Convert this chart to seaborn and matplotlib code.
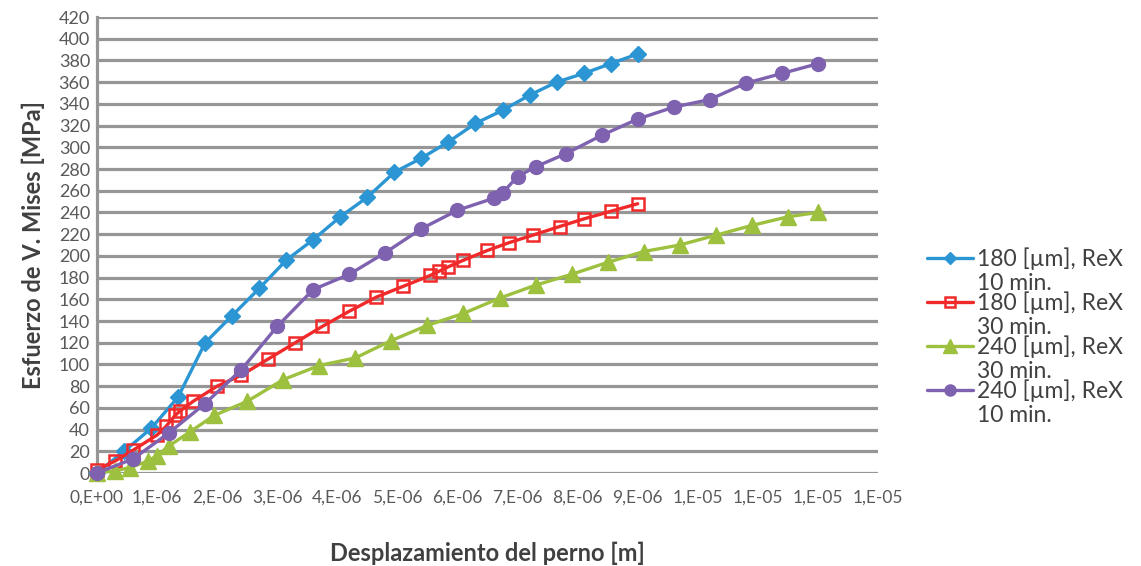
import matplotlib
matplotlib.use("Agg")
import matplotlib.pyplot as plt
from matplotlib.legend_handler import HandlerLine2D
import numpy as np
import seaborn as sns
import pandas as pd

# Pin displacement in micrometres (converted to metres when plotted) and von Mises stress in MPa
disp_180_10 = [0, 0.45, 0.9, 1.35, 1.8, 2.25, 2.7, 3.15, 3.6, 4.05, 4.5, 4.95, 5.4,
               5.85, 6.3, 6.75, 7.2, 7.65, 8.1, 8.55, 9.0]
stress_180_10 = [0, 20, 41, 70, 120, 145, 170, 196, 215, 236, 254, 277, 290,
                 305, 322, 334, 348, 360, 368, 377, 386]

disp_180_30 = [0, 0.3, 0.6, 1.0, 1.15, 1.3, 1.38, 1.6, 2.0, 2.4, 2.85, 3.3, 3.75,
               4.2, 4.65, 5.1, 5.55, 5.7, 5.85, 6.1, 6.5, 6.85, 7.25, 7.7, 8.1, 8.55, 9.0]
stress_180_30 = [3, 11, 21, 35, 43, 53, 57, 66, 80, 90, 105, 120, 135,
                 149, 162, 172, 182, 186, 190, 196, 205, 212, 219, 227, 234, 241, 248]

disp_240_30 = [0, 0.3, 0.55, 0.85, 1.0, 1.2, 1.55, 1.95, 2.5, 3.1, 3.7, 4.3, 4.9,
               5.5, 6.1, 6.7, 7.3, 7.9, 8.5, 9.1, 9.7, 10.3, 10.9, 11.5, 12.0]
stress_240_30 = [0, 2, 5, 11, 16, 25, 38, 53, 66, 86, 99, 106, 122,
                 136, 147, 161, 173, 183, 194, 204, 210, 219, 228, 236, 240]

disp_240_10 = [0, 0.6, 1.2, 1.8, 2.4, 3.0, 3.6, 4.2, 4.8, 5.4, 6.0, 6.6, 6.75,
               7.0, 7.3, 7.8, 8.4, 9.0, 9.6, 10.2, 10.8, 11.4, 12.0]
stress_240_10 = [0, 13, 37, 64, 95, 135, 169, 183, 203, 225, 242, 253, 258,
                 273, 282, 294, 311, 326, 337, 344, 359, 368, 377]

series_labels = ["180 [µm], ReX\n10 min.", "180 [µm], ReX\n30 min.",
                 "240 [µm], ReX\n30 min.", "240 [µm], ReX\n10 min."]

y_ticks = list(range(0, 421, 20))
x_ticks = [0, 1e-6, 2e-6, 3e-6, 4e-6, 5e-6, 6e-6, 7e-6, 8e-6, 9e-6,
           1.0e-5, 1.1e-5, 1.2e-5, 1.3e-5]
x_tick_labels = ["0,E+00", "1,E-06", "2,E-06", "3,E-06", "4,E-06", "5,E-06",
                 "6,E-06", "7,E-06", "8,E-06", "9,E-06",
                 "1,E-05", "1,E-05", "1,E-05", "1,E-05"]

sns.set_theme(style="white")
plt.rcParams["font.family"] = ["Lato", "DejaVu Sans"]

frames = []
for disp, stress, lab in [(disp_180_10, stress_180_10, series_labels[0]),
                          (disp_180_30, stress_180_30, series_labels[1]),
                          (disp_240_30, stress_240_30, series_labels[2]),
                          (disp_240_10, stress_240_10, series_labels[3])]:
    frames.append(pd.DataFrame({"disp": [d * 1e-6 for d in disp],
                                "stress": stress, "serie": lab}))
df = pd.concat(frames, ignore_index=True)

styles = {
    series_labels[0]: dict(color="#2B96D3", marker="D", ms=8, mfc="#2B96D3", mec="#2B96D3", mew=1),
    series_labels[1]: dict(color="#F02A2A", marker="s", ms=9, mfc="none", mec="#F02A2A", mew=1.8),
    series_labels[2]: dict(color="#9DC13F", marker="^", ms=12, mfc="#9DC13F", mec="#9DC13F", mew=1),
    series_labels[3]: dict(color="#7E62B0", marker="o", ms=10, mfc="#7E62B0", mec="#7E62B0", mew=1),
}

fig = plt.figure(figsize=(11.41, 5.66), dpi=100)
ax = fig.add_axes([97 / 1141, 1 - 473 / 566, (878 - 97) / 1141, (473 - 17) / 566])

for lab in series_labels:
    st = styles[lab]
    sub = df[df["serie"] == lab]
    sns.lineplot(data=sub, x="disp", y="stress", ax=ax, sort=False, estimator=None,
                 color=st["color"], marker=st["marker"], markersize=st["ms"],
                 markerfacecolor=st["mfc"], markeredgecolor=st["mec"],
                 markeredgewidth=st["mew"], linewidth=2.4, label=lab, clip_on=False,
                 zorder=3)

ax.set_xlim(0, 1.3e-5)
ax.set_ylim(0, 420)
ax.set_yticks(y_ticks)
ax.set_yticklabels([str(v) for v in y_ticks])
ax.set_xticks(x_ticks)
ax.set_xticklabels(x_tick_labels)
ax.yaxis.grid(True, color="#969696", linewidth=2.3)
ax.xaxis.grid(False)
ax.set_axisbelow(True)
for side in ["top", "right", "bottom"]:
    ax.spines[side].set_visible(False)
ax.spines["left"].set_color("#969696")
ax.spines["left"].set_linewidth(2.3)
ax.tick_params(axis="y", length=0, pad=5, labelsize=13, labelcolor="#595959")
ax.tick_params(axis="x", length=0, pad=12, labelsize=12.5, labelcolor="#595959")

ax.set_xlabel("Desplazamiento del perno [m]", fontsize=17, fontweight="bold",
              color="#404040", labelpad=26)
ax.set_ylabel("Esfuerzo de V. Mises [MPa]", fontsize=17, fontweight="bold",
              color="#404040", labelpad=10)


class FirstLineHandler(HandlerLine2D):
    """Legend line handler that lifts the sample up to the first text line."""

    def __init__(self, shift, **kw):
        super().__init__(**kw)
        self.shift = shift

    def create_artists(self, legend, orig_handle, xdescent, ydescent, width,
                       height, fontsize, trans):
        artists = super().create_artists(legend, orig_handle, xdescent, ydescent,
                                         width, height, fontsize, trans)
        for a in artists:
            a.set_ydata(np.asarray(a.get_ydata(), dtype=float) + self.shift)
        return artists


handles, labels = ax.get_legend_handles_labels()
if ax.get_legend():
    ax.get_legend().remove()
leg = fig.legend(handles, labels, loc="upper left",
                 bbox_to_anchor=(916 / 1141, 1 - 236 / 566),
                 frameon=False, fontsize=16.5, handlelength=2.0, handletextpad=0.15,
                 labelspacing=-0.09, borderpad=0, markerscale=0.8, labelcolor="#404040",
                 handler_map={h: FirstLineHandler(9.5) for h in handles})
for t in leg.get_texts():
    t.set_linespacing(1.15)

fig.savefig("out.png", dpi=100, facecolor="white")
